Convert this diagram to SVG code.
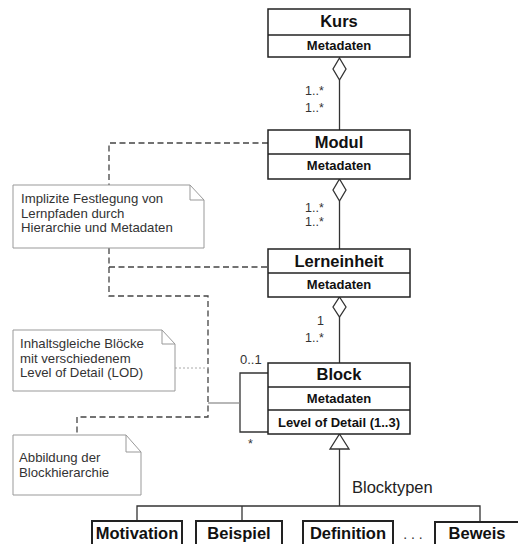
<svg xmlns="http://www.w3.org/2000/svg" width="518" height="544" viewBox="0 0 518 544">
<style>
.box{fill:#fff;stroke:#222;stroke-width:1.5}
.ttl{font-family:"Liberation Sans",Arial,sans-serif;font-weight:bold;font-size:16.5px;fill:#111;text-anchor:middle}
.att{font-family:"Liberation Sans",Arial,sans-serif;font-weight:bold;font-size:13px;fill:#111;text-anchor:middle}
.mult{font-family:"Liberation Sans",Arial,sans-serif;font-size:12.5px;fill:#333}
.note{fill:#fff;stroke:#999;stroke-width:1}
.ntx{font-family:"Liberation Sans",Arial,sans-serif;font-size:13.2px;fill:#333}
.line{fill:none;stroke:#333;stroke-width:1.3}
.dash{fill:none;stroke:#444;stroke-width:1.3;stroke-dasharray:6 3.5}
.dot{fill:none;stroke:#aaa;stroke-width:1;stroke-dasharray:2 2}
.gray{fill:none;stroke:#888;stroke-width:1.2}
.dia{fill:#fff;stroke:#333;stroke-width:1.3}
</style>
<g id="connectors">
  <line class="line" x1="339.5" y1="80" x2="339.5" y2="130"/>
  <polygon class="dia" points="339.5,58 346,69 339.5,80 333,69"/>
  <line class="line" x1="339.5" y1="201" x2="339.5" y2="249"/>
  <polygon class="dia" points="339.5,179 346,190 339.5,201 333,190"/>
  <line class="line" x1="339.5" y1="317" x2="339.5" y2="363"/>
  <polygon class="dia" points="339.5,297 346,307 339.5,317 333,307"/>
  <text class="mult" x="305" y="95">1..*</text>
  <text class="mult" x="305" y="112">1..*</text>
  <text class="mult" x="305" y="212">1..*</text>
  <text class="mult" x="305" y="226">1..*</text>
  <text class="mult" x="317" y="325">1</text>
  <text class="mult" x="305" y="342">1..*</text>
  <polyline class="line" points="268,373 240,373 240,432 268,432"/>
  <text class="mult" x="240" y="364" style="font-size:13px">0..1</text>
  <text class="mult" x="248" y="448">*</text>
  <polyline class="line" points="339.5,449 339.5,506"/>
  <polyline class="line" points="137,521 137,506 480,506 480,521"/>
  <line class="line" x1="242" y1="506" x2="242" y2="521"/>
  <polygon class="dia" points="339.5,434 349,449 330,449"/>
  <text x="352" y="493" font-family="Liberation Sans, Arial, sans-serif" font-size="16.5" fill="#222">Blocktypen</text>
  <polyline class="dash" points="268,143 109,143 109,185"/>
  <polyline class="dash" points="109,248 109,296 208,296 208,417 77,417 77,435"/>
  <line class="dash" x1="109" y1="267" x2="268" y2="267"/>
  <line class="gray" x1="208" y1="403" x2="240" y2="403"/>
  <line class="dot" x1="175" y1="368" x2="210" y2="368"/>
</g>
<g id="kurs">
  <rect class="box" x="268" y="9" width="142" height="48"/>
  <line class="box" x1="268" y1="35" x2="410" y2="35"/>
  <text class="ttl" x="339" y="27">Kurs</text>
  <text class="att" x="339" y="50">Metadaten</text>
</g>
<g id="modul">
  <rect class="box" x="268" y="130" width="142" height="49"/>
  <line class="box" x1="268" y1="154" x2="410" y2="154"/>
  <text class="ttl" x="339" y="148">Modul</text>
  <text class="att" x="339" y="170">Metadaten</text>
</g>
<g id="lerneinheit">
  <rect class="box" x="268" y="249" width="142" height="48"/>
  <line class="box" x1="268" y1="273" x2="410" y2="273"/>
  <text class="ttl" x="339" y="267">Lerneinheit</text>
  <text class="att" x="339" y="289">Metadaten</text>
</g>
<g id="block">
  <rect class="box" x="268" y="363" width="142" height="71"/>
  <line class="box" x1="268" y1="387" x2="410" y2="387"/>
  <line class="box" x1="268" y1="410" x2="410" y2="410"/>
  <text class="ttl" x="339" y="380">Block</text>
  <text class="att" x="339" y="403">Metadaten</text>
  <text class="att" x="339" y="427">Level of Detail (1..3)</text>
</g>
<g id="note1">
  <path class="note" d="M13,185 H190 L204,200 V248 H13 Z M190,185 V200 H204"/>
  <text class="ntx" x="21" y="203">Implizite Festlegung von</text>
  <text class="ntx" x="21" y="217.5">Lernpfaden durch</text>
  <text class="ntx" x="21" y="232">Hierarchie und Metadaten</text>
</g>
<g id="note2">
  <path class="note" d="M13,330 H162 L175,344 V391 H13 Z M162,330 V344 H175"/>
  <text class="ntx" x="20" y="348">Inhaltsgleiche Blöcke</text>
  <text class="ntx" x="20" y="362.5">mit verschiedenem</text>
  <text class="ntx" x="20" y="377">Level of Detail (LOD)</text>
</g>
<g id="note3">
  <path class="note" d="M13,435 H126 L141,452 V495 H13 Z M126,435 V452 H141"/>
  <text class="ntx" x="19" y="462">Abbildung der</text>
  <text class="ntx" x="19" y="477">Blockhierarchie</text>
</g>
<g id="motivation">
  <rect class="box" x="92" y="521" width="90" height="40" style="stroke-width:2"/>
  <text class="ttl" x="137" y="539">Motivation</text>
</g>
<g id="beispiel">
  <rect class="box" x="196" y="521" width="86" height="40" style="stroke-width:2"/>
  <text class="ttl" x="239" y="539">Beispiel</text>
</g>
<g id="definition">
  <rect class="box" x="303" y="521" width="90" height="40" style="stroke-width:2"/>
  <text class="ttl" x="348" y="539">Definition</text>
</g>
<text x="413" y="539" font-family="Liberation Sans, Arial, sans-serif" font-size="14" fill="#333" text-anchor="middle">. . .</text>
<g id="beweis">
  <rect class="box" x="435" y="522" width="90" height="40" style="stroke-width:2"/>
  <text class="ttl" x="477" y="539">Beweis</text>
</g>
</svg>
